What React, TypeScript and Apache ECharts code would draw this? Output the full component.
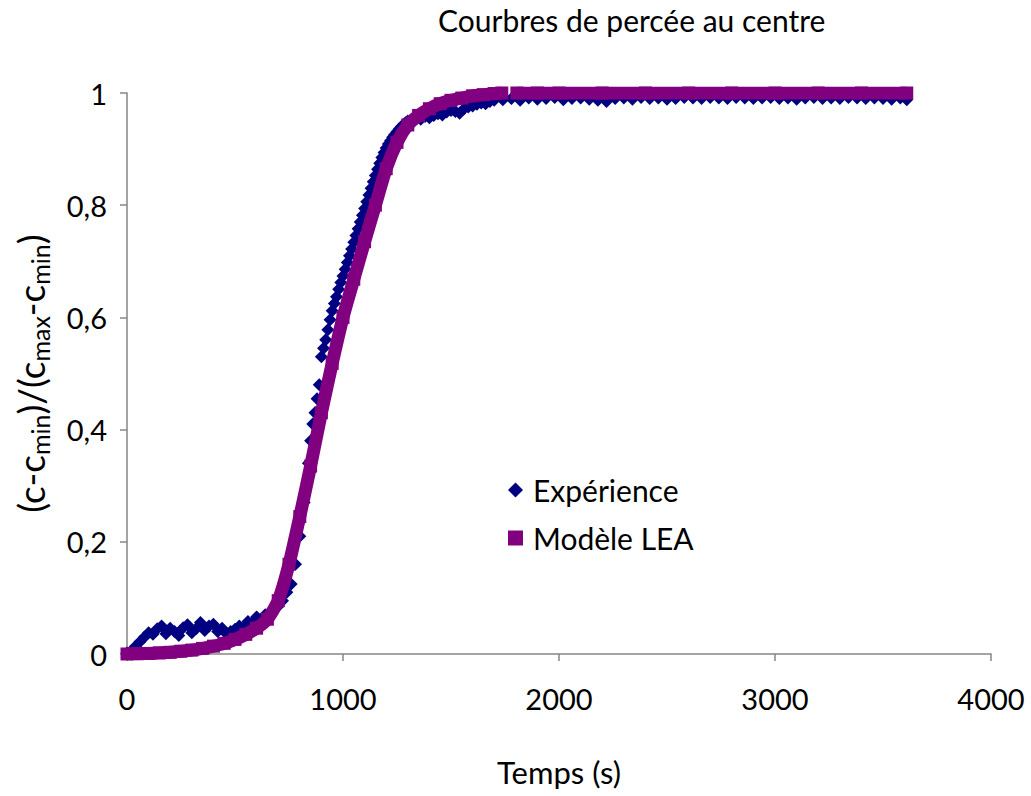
import React, { useEffect, useRef } from "react";
import * as echarts from "echarts";

const chartTitle = "Courbres de percée au centre";
const xTitle = "Temps (s)";
const seriesNames = ["Expérience", "Modèle LEA"];

// Experimental data (time in s, normalised concentration)
const expT = [
  0, 20, 40, 60, 80, 100, 120, 140, 160, 180, 200, 220, 240, 260, 280, 300, 320, 340, 360, 380,
  400, 420, 440, 460, 480, 500, 520, 540, 560, 580, 600, 620, 640, 660, 680, 700, 720, 740, 760, 780,
  800, 820, 840,
  850, 860, 870, 880, 890, 900, 910, 920, 930, 940, 950, 960, 970, 980, 990, 1000, 1010, 1020, 1030, 1040,
  1050, 1060, 1070, 1080, 1090, 1100, 1110, 1120, 1130, 1140, 1150, 1160, 1170, 1180, 1190, 1200, 1210, 1220,
  1230, 1240, 1250, 1260, 1270, 1280, 1290, 1300,
  1320, 1340, 1360, 1380, 1400, 1420, 1440, 1460, 1480, 1500, 1520, 1540, 1560, 1580, 1600, 1620, 1640, 1660,
  1680, 1700,
  1740, 1780, 1820, 1860, 1900, 1940, 1980, 2020, 2060, 2100, 2140, 2180, 2220, 2260, 2300, 2340, 2380, 2420,
  2460, 2500, 2540, 2580, 2620, 2660, 2700, 2740, 2780, 2820, 2860, 2900, 2940, 2980, 3020, 3060, 3100, 3140,
  3180, 3220, 3260, 3300, 3340, 3380, 3420, 3460, 3500, 3540, 3580, 3610,
];
const expY = [
  0.002, 0.006, 0.014, 0.022, 0.03, 0.038, 0.035, 0.045, 0.05, 0.036, 0.046, 0.04, 0.033, 0.047, 0.052, 0.038, 0.045, 0.056, 0.042, 0.05,
  0.053, 0.04, 0.046, 0.036, 0.04, 0.044, 0.05, 0.047, 0.058, 0.055, 0.066, 0.062, 0.07, 0.074, 0.08, 0.085, 0.095, 0.11, 0.125, 0.16,
  0.21, 0.27, 0.34,
  0.38, 0.41, 0.43, 0.455, 0.48, 0.53, 0.545, 0.56, 0.578, 0.596, 0.612, 0.625, 0.637, 0.65, 0.662, 0.674, 0.686, 0.698, 0.71, 0.722,
  0.734, 0.746, 0.758, 0.77, 0.782, 0.794, 0.806, 0.818, 0.83, 0.842, 0.853, 0.864, 0.875, 0.885, 0.894, 0.902, 0.909, 0.915,
  0.921, 0.926, 0.931, 0.936, 0.94, 0.944, 0.947, 0.95,
  0.951, 0.955, 0.953, 0.958, 0.956, 0.96, 0.963, 0.961, 0.966, 0.969, 0.967, 0.964, 0.972, 0.975, 0.977, 0.98, 0.982, 0.981,
  0.985, 0.987,
  0.988, 0.99, 0.987, 0.991, 0.989, 0.99, 0.992, 0.988, 0.99, 0.991, 0.989, 0.987, 0.985, 0.99, 0.991, 0.989, 0.992, 0.99,
  0.991, 0.989, 0.99, 0.992, 0.991, 0.99, 0.992, 0.991, 0.99, 0.992, 0.991, 0.99, 0.991, 0.992, 0.99, 0.991, 0.989, 0.991,
  0.992, 0.99, 0.991, 0.99, 0.992, 0.991, 0.99, 0.991, 0.99, 0.989, 0.991, 0.988,
];

// LEA model (null marks the small break in the model curve)
const modelT = [
  0, 50, 100, 150, 200, 250, 300, 350, 400, 450, 500, 550, 600, 650, 700, 750, 800, 850, 900, 950,
  1000, 1050, 1100, 1150, 1200, 1250, 1300, 1350, 1400, 1450, 1500, 1550, 1600, 1650, 1700, 1735,
  1770, 1805, 1900, 2000, 2200, 2400, 2600, 2800, 3000, 3200, 3400, 3610,
];
const modelY: (number | null)[] = [
  0, 0.0005, 0.001, 0.002, 0.003, 0.005, 0.007, 0.01, 0.014, 0.019, 0.026, 0.035, 0.046, 0.062, 0.095, 0.16, 0.245, 0.335, 0.43, 0.518,
  0.6, 0.668, 0.735, 0.8, 0.865, 0.912, 0.943, 0.96, 0.972, 0.981, 0.987, 0.991, 0.995, 0.997, 0.999, 1,
  null, 1, 1, 1, 1, 1, 1, 1, 1, 1, 1, 1,
];

const xTicks = [0, 1000, 2000, 3000, 4000];
const yTicks = [0, 0.2, 0.4, 0.6, 0.8, 1];

const FONT = "Lato, 'Open Sans', sans-serif";
const AXIS_GREY = "#868686";

export default function App() {
  const ref = useRef<HTMLDivElement>(null);

  useEffect(() => {
    if (!ref.current) return;
    const chart = echarts.init(ref.current, undefined, { renderer: "svg" });
    const expData = expT.map((t, i) => [t, expY[i]]);
    const modelData = modelT.map((t, i) => (modelY[i] === null ? [t, "-"] : [t, modelY[i]]));

    chart.setOption({
      animation: false,
      backgroundColor: "#ffffff",
      textStyle: { fontFamily: FONT, color: "#000" },
      title: {
        text: chartTitle,
        left: 433,
        top: 0,
        textStyle: { fontFamily: FONT, fontSize: 30, fontWeight: "normal", color: "#000" },
      },
      legend: {
        orient: "vertical",
        left: 503,
        top: 470,
        itemWidth: 15,
        itemHeight: 15,
        itemGap: 18,
        textStyle: { fontFamily: FONT, fontSize: 30, color: "#000", padding: [0, 0, 0, 5] },
        data: [
          { name: seriesNames[0], icon: "diamond", itemStyle: { color: "#000080" } },
          { name: seriesNames[1], icon: "rect", itemStyle: { color: "#800080" } },
        ],
      },
      grid: { left: 124, right: 40, top: 93, bottom: 142 },
      xAxis: {
        type: "value",
        min: xTicks[0],
        max: xTicks[xTicks.length - 1],
        interval: 1000,
        name: xTitle,
        nameLocation: "middle",
        nameGap: 102,
        nameTextStyle: { fontFamily: FONT, fontSize: 31, color: "#000" },
        axisLine: { show: true, onZero: false, lineStyle: { color: AXIS_GREY, width: 1.5 } },
        axisTick: { show: true, length: 7, lineStyle: { color: AXIS_GREY, width: 1.5 } },
        axisLabel: {
          fontFamily: FONT,
          fontSize: 29,
          color: "#000",
          margin: 30,
          formatter: (v: number) => String(v),
        },
        splitLine: { show: false },
      },
      yAxis: {
        type: "value",
        min: yTicks[0],
        max: yTicks[yTicks.length - 1],
        interval: 0.2,
        name: "(c-c{sub|min})/(c{sub|max}-c{sub|min})",
        nameLocation: "middle",
        nameRotate: 90,
        nameGap: 75,
        nameTextStyle: {
          fontFamily: FONT,
          fontSize: 37,
          color: "#000",
          lineHeight: 44,
          rich: {
            sub: { fontFamily: FONT, fontSize: 25, color: "#000", lineHeight: 25, verticalAlign: "bottom" },
          },
        },
        axisLine: { show: true, onZero: false, lineStyle: { color: AXIS_GREY, width: 1.5 } },
        axisTick: { show: true, length: 7, lineStyle: { color: AXIS_GREY, width: 1.5 } },
        axisLabel: {
          fontFamily: FONT,
          fontSize: 29,
          color: "#000",
          margin: 20,
          formatter: (v: number) => String(Math.round(v * 10) / 10).replace(".", ","),
        },
        splitLine: { show: false },
      },
      series: [
        {
          name: seriesNames[0],
          type: "scatter",
          symbol: "diamond",
          symbolSize: 13,
          itemStyle: { color: "#000080", opacity: 1 },
          data: expData,
          z: 2,
        },
        {
          name: seriesNames[1],
          type: "line",
          symbol: "rect",
          symbolSize: 13,
          showSymbol: true,
          connectNulls: false,
          smooth: 0.2,
          itemStyle: { color: "#800080", opacity: 1 },
          lineStyle: { color: "#800080", width: 13, cap: "butt" },
          data: modelData,
          z: 3,
        },
      ],
    });
    return () => chart.dispose();
  }, []);

  return (
    <div
      ref={ref}
      style={{ position: "fixed", left: 0, top: 0, width: 1031, height: 796, background: "#fff" }}
    />
  );
}
